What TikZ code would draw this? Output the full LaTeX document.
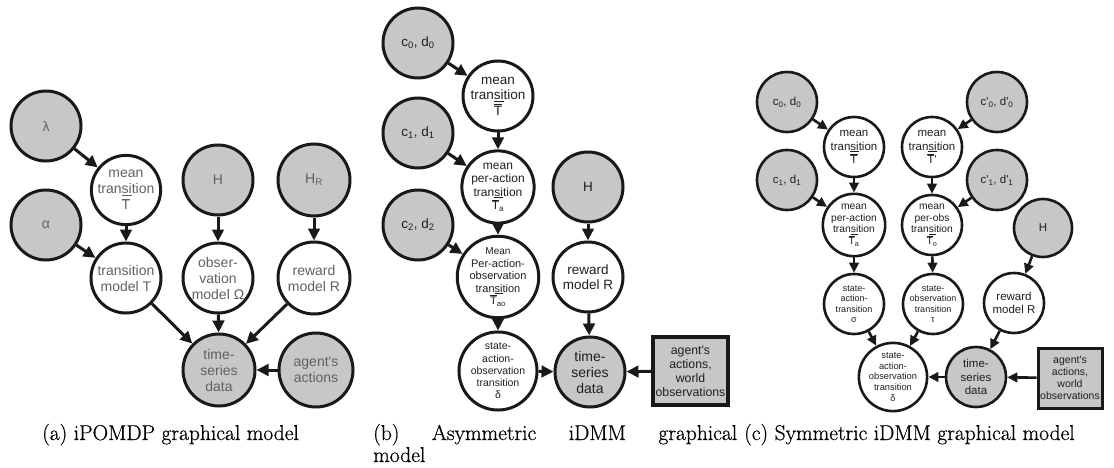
\documentclass[tikz,border=0pt]{standalone}
\usepackage{fontspec}
\newfontfamily\nodefont{Liberation Sans}
\newfontfamily\capfont{Latin Modern Roman}[FakeBold=0.6]
\usetikzlibrary{arrows.meta}
\newcommand{\Tb}{$\overline{\mbox{T}}$}
\newcommand{\trs}{tran\underline{si}tion}
\tikzset{
  nbase/.style={circle, draw=black!90, inner sep=0pt, align=center},
  gfill/.style={fill=black!22},
  na/.style={nbase, minimum size=70pt, line width=3pt, text=black!62, font={\nodefont\fontsize{14}{16}\selectfont}},
  nb/.style={nbase, minimum size=70pt, line width=3pt, text=black!88, font={\nodefont\fontsize{13.5}{15.5}\selectfont}},
  nc/.style={nbase, minimum size=60pt, line width=2.6pt, text=black!88, font={\nodefont\fontsize{11.5}{13.5}\selectfont}},
  boxb/.style={rectangle, draw=black!90, fill=black!22, line width=3.5pt, inner sep=0pt, align=center, text=black!88},
  arr/.style={line width=3pt, draw=black!90, -{Triangle[length=12pt,width=11.5pt]}},
  arrc/.style={line width=2.6pt, draw=black!90, -{Triangle[length=10pt,width=9.5pt]}},
  capt/.style={inner sep=0pt, anchor=base west, font={\capfont\fontsize{21.5}{24}\selectfont}, text=black}
}
\begin{document}
\begin{tikzpicture}[x=1pt,y=-1pt]
\useasboundingbox (0,0) rectangle (1114,468);
% ---------------- (a)
\node[na,gfill] (lam) at (46,126) {λ};
\node[na,gfill] (alpha) at (46,225) {α};
\node[na,minimum size=66pt] (mta) at (126,190) {mean\\\trs\\\Tb};
\node[na,gfill] (Ha) at (218,180) {H};
\node[na,gfill,minimum size=72pt] (HRa) at (314,180) {H\textsubscript{R}};
\node[na] (tma) at (126,278) {transition\\model T};
\node[na] (oma) at (218,278) {obser-\\vation\\model Ω};
\node[na,minimum size=72pt] (rma) at (314,278) {reward\\model R};
\node[na,gfill,minimum size=72pt] (tsa) at (219,370) {time-\\series\\data};
\node[na,gfill,minimum size=74pt] (aga) at (316,370) {agent's\\actions};
\draw[arr] (lam) -- (mta);
\draw[arr] (alpha) -- (tma);
\draw[arr] (mta) -- (tma);
\draw[arr] (Ha) -- (oma);
\draw[arr] (HRa) -- (rma);
\draw[arr] (tma) -- (tsa);
\draw[arr] (oma) -- (tsa);
\draw[arr] (rma) -- (tsa);
\draw[arr] (aga) -- (tsa);
% ---------------- (b)
\node[nb,gfill] (c0b) at (418,43) {c\textsubscript{0}, d\textsubscript{0}};
\node[nb,gfill] (c1b) at (418,133) {c\textsubscript{1}, d\textsubscript{1}};
\node[nb,gfill] (c2b) at (418,225) {c\textsubscript{2}, d\textsubscript{2}};
\node[nb] (mtb) at (498,96) {mean\\\trs\\\Tb};
\node[nb,font={\nodefont\fontsize{12}{13.5}\selectfont}] (mpab) at (498,187) {mean\\per-action\\\trs\\\Tb\textsubscript{a}};
\node[nb,font={\nodefont\fontsize{11}{12.5}\selectfont}] (mpaob) at (498,277) {{\fontsize{10}{11}\selectfont Mean}\\Per-action-\\observation\\\trs\\\Tb\textsubscript{ao}};
\node[nb,font={\nodefont\fontsize{10.5}{12.3}\selectfont}] (saob) at (498,371) {state-\\action-\\observation\\transition\\δ};
\node[nb,gfill] (Hb) at (588,187) {H};
\node[nb] (rmb) at (588,277) {reward\\model R};
\node[nb,gfill,font={\nodefont\fontsize{14}{16}\selectfont}] (tsb) at (590,372) {time-\\series\\data};
\node[boxb,minimum width=75pt,minimum height=68pt,font={\nodefont\fontsize{12.3}{14}\selectfont}] (bxb) at (690.5,371) {agent's\\actions,\\world\\observations};
\draw[arr] (c0b) -- (mtb);
\draw[arr] (c1b) -- (mpab);
\draw[arr] (c2b) -- (mpaob);
\draw[arr] (mtb) -- (mpab);
\draw[arr] (mpab) -- (mpaob);
\draw[arr] (mpaob) -- (saob);
\draw[arr] (saob) -- (tsb);
\draw[arr] (Hb) -- (rmb);
\draw[arr] (rmb) -- (tsb);
\draw[arr] (bxb) -- (tsb);
% ---------------- (c)
\node[nc,gfill] (c0c) at (787,102) {c\textsubscript{0}, d\textsubscript{0}};
\node[nc,gfill] (c1c) at (787,180) {c\textsubscript{1}, d\textsubscript{1}};
\node[nc,gfill] (cp0) at (997,102) {c'\textsubscript{0}, d'\textsubscript{0}};
\node[nc,gfill] (cp1) at (997,180) {c'\textsubscript{1}, d'\textsubscript{1}};
\node[nc] (mtc) at (854,147) {mean\\\trs\\\Tb};
\node[nc] (mtp) at (932,147) {mean\\\trs\\\Tb'};
\node[nc,font={\nodefont\fontsize{10.3}{11.8}\selectfont}] (mpac) at (854,225) {mean\\per-action\\\trs\\\Tb\textsubscript{a}};
\node[nc,font={\nodefont\fontsize{10.3}{11.8}\selectfont}] (mpoc) at (932,225) {mean\\per-obs\\\trs\\\Tb\textsubscript{o}};
\node[nc,gfill,minimum size=58pt] (Hc) at (1043,228) {H};
\node[nc,font={\nodefont\fontsize{9}{10.5}\selectfont}] (sig) at (854,304) {state-\\action-\\transition\\σ};
\node[nc,font={\nodefont\fontsize{9}{10.5}\selectfont}] (tau) at (933,304) {state-\\observation\\transition\\τ};
\node[nc] (rmc) at (1014,303) {reward\\model R};
\node[nc,font={\nodefont\fontsize{9.3}{10.6}\selectfont}] (delc) at (893,377) {state-\\action-\\observation\\transition\\δ};
\node[nc,gfill] (tsc) at (976,377) {time-\\series\\data};
\node[boxb,line width=3pt,minimum width=64pt,minimum height=60pt,font={\nodefont\fontsize{10.5}{11.8}\selectfont}] (bxc) at (1070,378) {agent's\\actions,\\world\\observations};
\draw[arrc] (c0c) -- (mtc);
\draw[arrc] (c1c) -- (mpac);
\draw[arrc] (cp0) -- (mtp);
\draw[arrc] (cp1) -- (mpoc);
\draw[arrc] (mtc) -- (mpac);
\draw[arrc] (mtp) -- (mpoc);
\draw[arrc] (mpac) -- (sig);
\draw[arrc] (mpoc) -- (tau);
\draw[arrc] (sig) -- (delc);
\draw[arrc] (tau) -- (delc);
\draw[arrc] (Hc) -- (rmc);
\draw[arrc] (rmc) -- (tsc);
\draw[arrc] (tsc) -- (delc);
\draw[arrc] (bxc) -- (tsc);
% ---------------- captions
\node[capt] (capa) at (42,440) {(a) iPOMDP graphical model};
\node[capt] (capb) at (373,440) {\hbox to 364pt{(b)\hfill Asymmetric\hfill iDMM\hfill graphical}};
\node[capt] (capb2) at (373,462) {model};
\node[capt] (capc) at (744,440) {(c) Symmetric iDMM graphical model};
\end{tikzpicture}
\end{document}
